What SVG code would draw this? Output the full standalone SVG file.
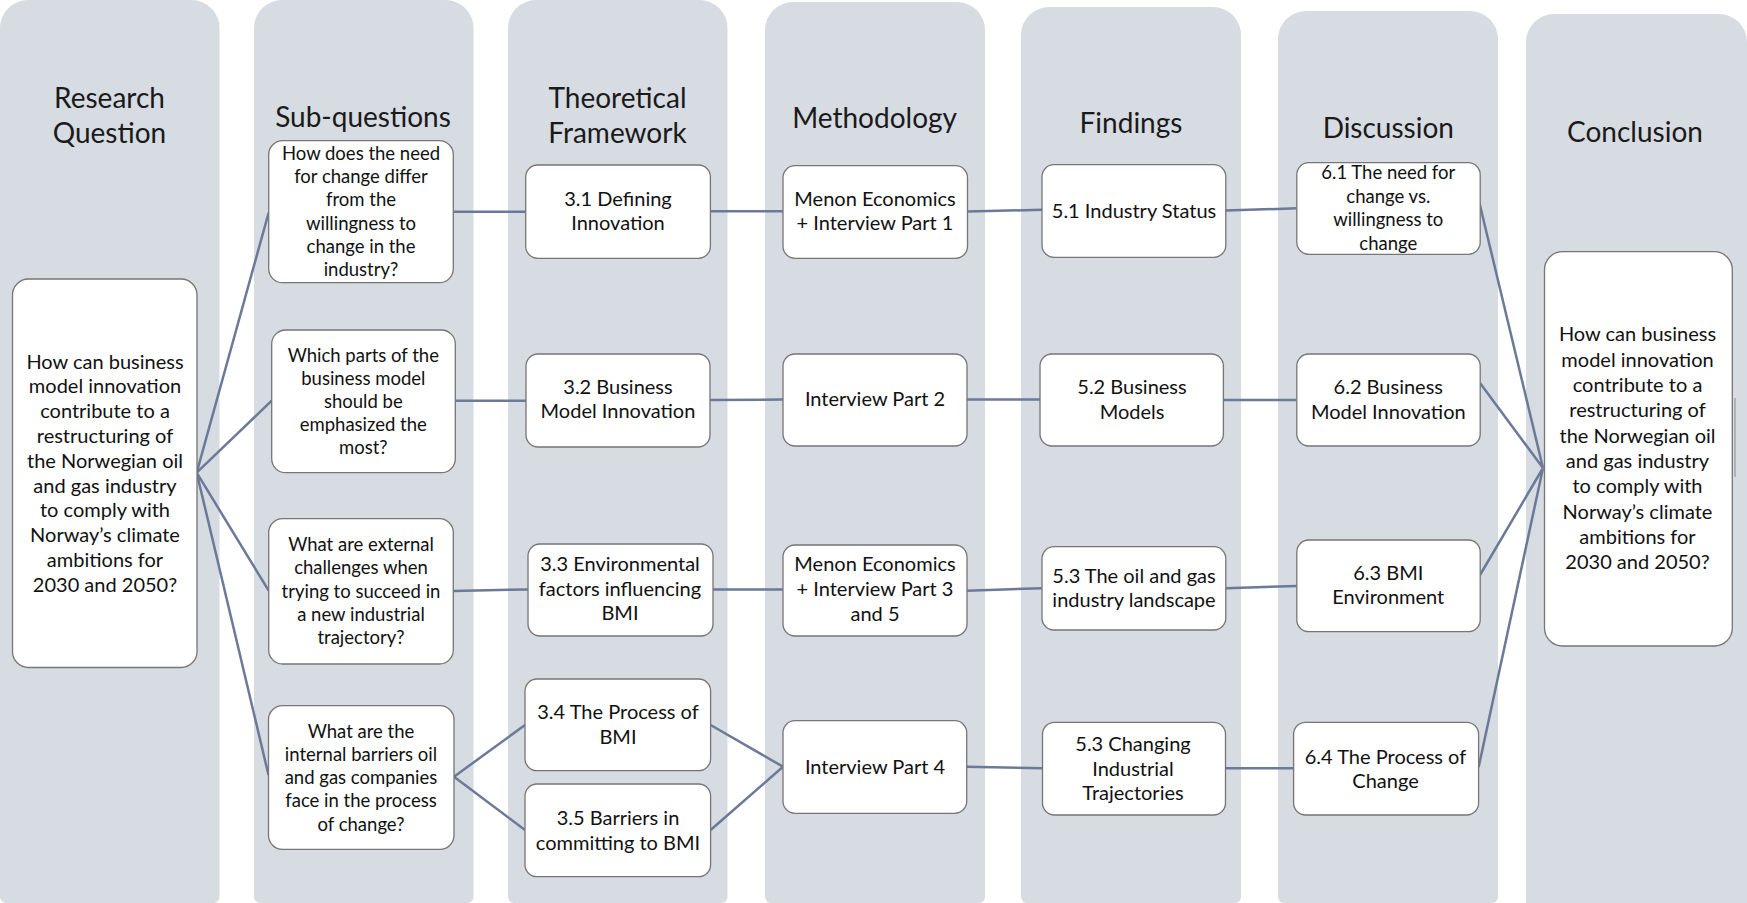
<svg xmlns="http://www.w3.org/2000/svg" width="1747" height="903" viewBox="0 0 1747 903">
<style>
.col{fill:#D7DBE2}
.hdr{font-family:Lato,"Liberation Sans",sans-serif;font-size:28px;fill:#1a1a1a;text-anchor:middle}
.box{fill:#fff;stroke:#767676;stroke-width:1.3}
.t{font-family:Lato,"Liberation Sans",sans-serif;font-size:20px;fill:#111;text-anchor:middle}
.s{font-size:18.5px}
.cn{fill:none;stroke:#6B7A98;stroke-width:2.5}
</style>
<rect width="1747" height="903" fill="#fff"/>
<g id="columns">
<path class="col" d="M0,28 a28,28 0 0 1 28,-28 h163.5 a28,28 0 0 1 28,28 V897 a6,6 0 0 1 -6,6 H6 a6,6 0 0 1 -6,-6 Z"/>
<path class="col" d="M254,28 a28,28 0 0 1 28,-28 h163.5 a28,28 0 0 1 28,28 V897 a6,6 0 0 1 -6,6 H260 a6,6 0 0 1 -6,-6 Z"/>
<path class="col" d="M508,28 a28,28 0 0 1 28,-28 h163.5 a28,28 0 0 1 28,28 V897 a6,6 0 0 1 -6,6 H514 a6,6 0 0 1 -6,-6 Z"/>
<path class="col" d="M765,30 a28,28 0 0 1 28,-28 h164 a28,28 0 0 1 28,28 V897 a6,6 0 0 1 -6,6 H771 a6,6 0 0 1 -6,-6 Z"/>
<path class="col" d="M1021,35 a28,28 0 0 1 28,-28 h164 a28,28 0 0 1 28,28 V897 a6,6 0 0 1 -6,6 H1027 a6,6 0 0 1 -6,-6 Z"/>
<path class="col" d="M1278,39 a28,28 0 0 1 28,-28 h164 a28,28 0 0 1 28,28 V897 a6,6 0 0 1 -6,6 H1284 a6,6 0 0 1 -6,-6 Z"/>
<path class="col" d="M1526,42 a28,28 0 0 1 28,-28 h165 a28,28 0 0 1 28,28 V903 H1526 Z"/>
</g>
<g id="headers">
<text class="hdr" x="109.5" y="108">Research<tspan x="109.5" dy="35">Question</tspan></text>
<text class="hdr" x="363" y="127">Sub-questions</text>
<text class="hdr" x="617.5" y="108">Theoretical<tspan x="617.5" dy="35">Framework</tspan></text>
<text class="hdr" x="874.6" y="128">Methodology</text>
<text class="hdr" x="1131" y="133">Findings</text>
<text class="hdr" x="1388.3" y="138">Discussion</text>
<text class="hdr" x="1635" y="142">Conclusion</text>
</g>
<g id="connectors">
<path class="cn" d="M196.7,472.7 L268.7,212.5 M196.7,472.7 L271.7,400.7 M196.7,472.7 L268.7,590.7 M196.7,472.7 L268.5,775"/>
<path class="cn" d="M453.3,211.7 H525.7 M710.4,211.2 H783 M967.5,211.5 L1042,209.8 M1225.8,210.5 L1296.8,208.3"/>
<path class="cn" d="M455.3,400.7 H526 M710,400 L783,399.5 M967,399.5 H1040 M1223.4,400 H1296.8"/>
<path class="cn" d="M453.3,591 L528,589.4 M713,589.4 H783 M966.7,590.7 L1041.7,588.3 M1226,588.3 L1296.7,586"/>
<path class="cn" d="M454,776.7 L525,725 M454,776.7 L525,830 M710.6,725 L783,766.7 M710.6,830 L783,766.7 M966.7,766.7 L1042.5,768.3 M1225.5,768.3 H1293.6"/>
<path class="cn" d="M1478,197 L1543,468 M1480,383 L1543,468 M1480,575 L1543,468 M1478.6,767.3 L1543,468"/>
</g>
<g id="rq">
<rect class="box" x="12.5" y="279" width="184.5" height="388.5" rx="16"/>
<text class="t" x="105" y="368.5">How can business<tspan x="105" dy="24.8">model innovation</tspan><tspan x="105" dy="24.8">contribute to a</tspan><tspan x="105" dy="24.8">restructuring of</tspan><tspan x="105" dy="24.8">the Norwegian oil</tspan><tspan x="105" dy="24.8">and gas industry</tspan><tspan x="105" dy="24.8">to comply with</tspan><tspan x="105" dy="24.8">Norway’s climate</tspan><tspan x="105" dy="24.8">ambitions for</tspan><tspan x="105" dy="24.8">2030 and 2050?</tspan></text>
</g>
<g id="sq1">
<rect class="box" x="268.7" y="140.7" width="184.6" height="142" rx="14"/>
<text class="t s" x="361" y="159.8">How does the need<tspan x="361" dy="23.3">for change differ</tspan><tspan x="361" dy="23.3">from the</tspan><tspan x="361" dy="23.3">willingness to</tspan><tspan x="361" dy="23.3">change in the</tspan><tspan x="361" dy="23.3">industry?</tspan></text>
</g>
<g id="sq2">
<rect class="box" x="271.7" y="330" width="183.6" height="142.7" rx="14"/>
<text class="t s" x="363.3" y="361.5">Which parts of the<tspan x="363.3" dy="23.1">business model</tspan><tspan x="363.3" dy="23.1">should be</tspan><tspan x="363.3" dy="23.1">emphasized the</tspan><tspan x="363.3" dy="23.1">most?</tspan></text>
</g>
<g id="sq3">
<rect class="box" x="268.7" y="518.7" width="184.6" height="145.3" rx="14"/>
<text class="t s" x="361" y="551.2">What are external<tspan x="361" dy="23.25">challenges when</tspan><tspan x="361" dy="23.25">trying to succeed in</tspan><tspan x="361" dy="23.25">a new industrial</tspan><tspan x="361" dy="23.25">trajectory?</tspan></text>
</g>
<g id="sq4">
<rect class="box" x="268.5" y="705.7" width="185.5" height="143.6" rx="14"/>
<text class="t s" x="361" y="737.5">What are the<tspan x="361" dy="23.25">internal barriers oil</tspan><tspan x="361" dy="23.25">and gas companies</tspan><tspan x="361" dy="23.25">face in the process</tspan><tspan x="361" dy="23.25">of change?</tspan></text>
</g>
<g id="tf1">
<rect class="box" x="525.7" y="165" width="184.7" height="93.3" rx="12"/>
<text class="t" x="618" y="206">3.1 Defining<tspan x="618" dy="23.7">Innovation</tspan></text>
</g>
<g id="tf2">
<rect class="box" x="526" y="354" width="184" height="93" rx="12"/>
<text class="t" x="618" y="393.6">3.2 Business<tspan x="618" dy="24.4">Model Innovation</tspan></text>
</g>
<g id="tf3">
<rect class="box" x="528" y="544" width="185" height="92" rx="12"/>
<text class="t" x="620" y="570.8">3.3 Environmental<tspan x="620" dy="24.8">factors influencing</tspan><tspan x="620" dy="24.8">BMI</tspan></text>
</g>
<g id="tf4">
<rect class="box" x="525" y="679" width="185.6" height="91.7" rx="12"/>
<text class="t" x="618" y="719.3">3.4 The Process of<tspan x="618" dy="25">BMI</tspan></text>
</g>
<g id="tf5">
<rect class="box" x="525" y="784" width="185.6" height="92.7" rx="12"/>
<text class="t" x="618" y="825.3">3.5 Barriers in<tspan x="618" dy="24.4">committing to BMI</tspan></text>
</g>
<g id="m1">
<rect class="box" x="783" y="165.7" width="184.5" height="92.6" rx="12"/>
<text class="t" x="875" y="206.3">Menon Economics<tspan x="875" dy="24">+ Interview Part 1</tspan></text>
</g>
<g id="m2">
<rect class="box" x="783" y="354" width="184" height="92" rx="12"/>
<text class="t" x="875" y="406">Interview Part 2</text>
</g>
<g id="m3">
<rect class="box" x="783" y="545" width="184" height="91" rx="12"/>
<text class="t" x="875" y="570.8">Menon Economics<tspan x="875" dy="25">+ Interview Part 3</tspan><tspan x="875" dy="25">and 5</tspan></text>
</g>
<g id="m4">
<rect class="box" x="783" y="720.7" width="183.7" height="92.6" rx="12"/>
<text class="t" x="875" y="773.7">Interview Part 4</text>
</g>
<g id="f1">
<rect class="box" x="1042" y="164.7" width="183.8" height="92.6" rx="12"/>
<text class="t" x="1134" y="217.7">5.1 Industry Status</text>
</g>
<g id="f2">
<rect class="box" x="1040" y="354" width="183.4" height="92" rx="12"/>
<text class="t" x="1132" y="394.3">5.2 Business<tspan x="1132" dy="25">Models</tspan></text>
</g>
<g id="f3">
<rect class="box" x="1042" y="546.7" width="183.8" height="83.3" rx="12"/>
<text class="t" x="1134" y="582.7">5.3 The oil and gas<tspan x="1134" dy="24.3">industry landscape</tspan></text>
</g>
<g id="f4">
<rect class="box" x="1042.5" y="722.3" width="183" height="92.7" rx="12"/>
<text class="t" x="1133" y="751">5.3 Changing<tspan x="1133" dy="24.6">Industrial</tspan><tspan x="1133" dy="24.6">Trajectories</tspan></text>
</g>
<g id="d1">
<rect class="box" x="1296.8" y="162.7" width="183.4" height="91.6" rx="12"/>
<text class="t s" x="1388.3" y="179.2">6.1 The need for<tspan x="1388.3" dy="23.5">change vs.</tspan><tspan x="1388.3" dy="23.5">willingness to</tspan><tspan x="1388.3" dy="23.5">change</tspan></text>
</g>
<g id="d2">
<rect class="box" x="1296.8" y="354" width="183.4" height="92" rx="12"/>
<text class="t" x="1388.3" y="394.3">6.2 Business<tspan x="1388.3" dy="25">Model Innovation</tspan></text>
</g>
<g id="d3">
<rect class="box" x="1296.8" y="540" width="183.4" height="91.7" rx="12"/>
<text class="t" x="1388.3" y="580.3">6.3 BMI<tspan x="1388.3" dy="24">Environment</tspan></text>
</g>
<g id="d4">
<rect class="box" x="1293.6" y="722.3" width="185" height="92.7" rx="12"/>
<text class="t" x="1385.5" y="763.7">6.4 The Process of<tspan x="1385.5" dy="24.3">Change</tspan></text>
</g>
<g id="conclusion">
<rect class="box" x="1544.5" y="251.7" width="187.8" height="394.3" rx="18"/>
<text class="t" x="1637.5" y="341.3">How can business<tspan x="1637.5" dy="25.33">model innovation</tspan><tspan x="1637.5" dy="25.33">contribute to a</tspan><tspan x="1637.5" dy="25.33">restructuring of</tspan><tspan x="1637.5" dy="25.33">the Norwegian oil</tspan><tspan x="1637.5" dy="25.33">and gas industry</tspan><tspan x="1637.5" dy="25.33">to comply with</tspan><tspan x="1637.5" dy="25.33">Norway’s climate</tspan><tspan x="1637.5" dy="25.33">ambitions for</tspan><tspan x="1637.5" dy="25.33">2030 and 2050?</tspan></text>
<path d="M1735,398 V477" stroke="#8a8a8a" stroke-width="1" fill="none"/>
</g>
</svg>
